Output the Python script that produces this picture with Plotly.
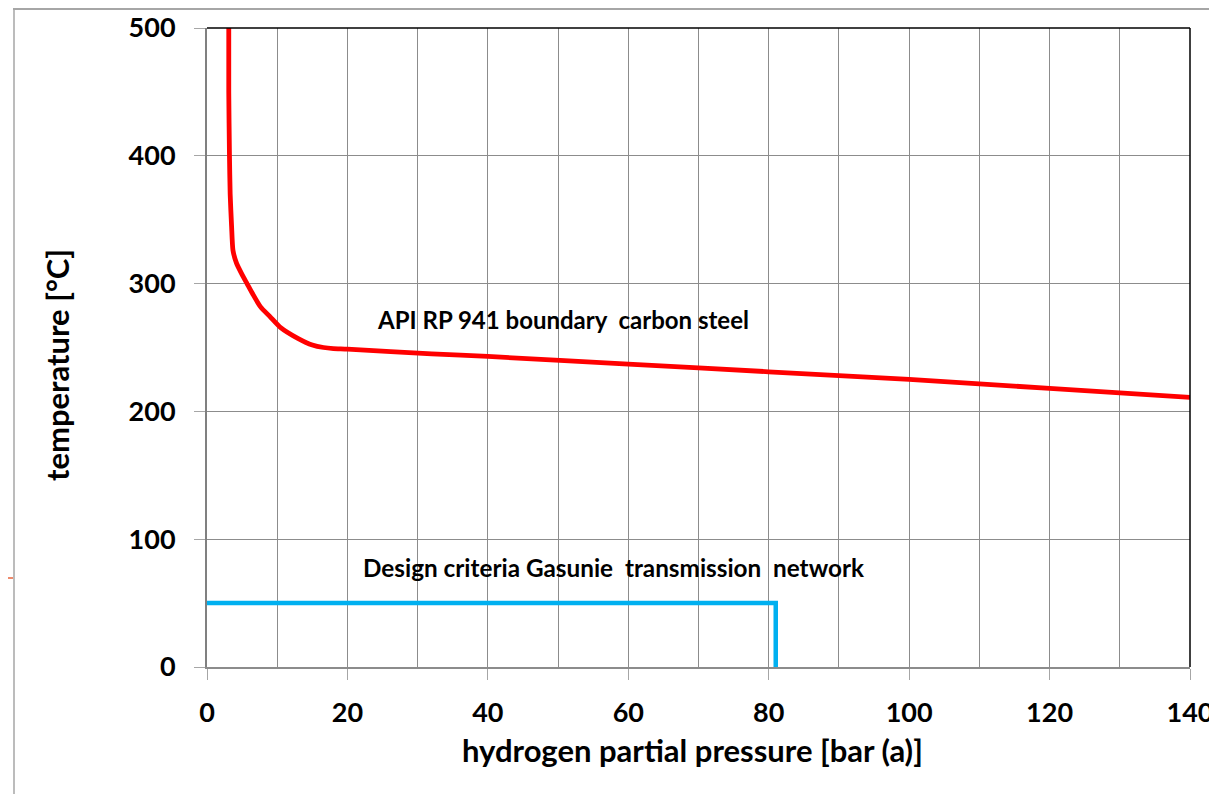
import plotly.graph_objects as go

# API RP 941 boundary (carbon steel)
api_pressure = [3.1, 3.1, 3.2, 3.3, 3.5, 3.7, 4.2, 5.0, 5.7, 6.5, 7.6, 9.0, 10.4, 13.0, 15.0, 16.6, 18.0, 20.0, 32.0, 40.0, 60.0, 80.0, 100.0, 120.0, 140.0]
api_temp = [500, 450, 400, 370, 345, 326, 316, 307, 300, 292, 282, 274, 266, 257, 252, 250, 249.2, 248.8, 245, 243, 237, 231, 225, 218, 211]

# Design criteria Gasunie transmission network
gas_pressure = [0, 81, 81]
gas_temp = [50, 50, 0]

x_ticks = [0, 20, 40, 60, 80, 100, 120, 140]
y_ticks = [0, 100, 200, 300, 400, 500]

FONT = "Lato"
# page offset caused by the default 8px body margin
OFF = 8
W, H = 1217 - OFF, 802 - 2 * OFF

# plot area in page pixels
PL, PR, PT, PB = 207, 1190, 28, 667

fig = go.Figure()
fig.add_trace(go.Scatter(x=api_pressure, y=api_temp, mode="lines",
                         line=dict(color="#FF0000", width=4.8, shape="spline", smoothing=0.6),
                         showlegend=False, hoverinfo="skip"))
fig.add_trace(go.Scatter(x=gas_pressure, y=gas_temp, mode="lines",
                         line=dict(color="#00B0F0", width=4.5),
                         showlegend=False, hoverinfo="skip"))

def px(x):
    return (x - PL) / float(PR - PL)

def py(y):
    return (PB - y) / float(PB - PT)

fig.add_annotation(x=50.7, y=272, text="API RP 941 boundary\u00a0 carbon steel", showarrow=False,
                   xanchor="center", yanchor="middle",
                   font=dict(family=FONT, size=24, color="#000000", weight="bold"))
fig.add_annotation(x=57.9, y=78, text="Design criteria Gasunie\u00a0 transmission\u00a0 network", showarrow=False,
                   xanchor="center", yanchor="middle",
                   font=dict(family=FONT, size=24.3, color="#000000", weight="bold"))
# axis titles
fig.add_annotation(xref="paper", yref="paper", x=px(692), y=py(750), text="hydrogen partial pressure [bar (a)]",
                   xanchor="center", yanchor="middle",
                   showarrow=False, font=dict(family=FONT, size=31, color="#000000", weight="bold"))
fig.add_annotation(xref="paper", yref="paper", x=px(57), y=py(365), text="temperature [°C]", textangle=-90,
                   xanchor="center", yanchor="middle",
                   showarrow=False, font=dict(family=FONT, size=31, color="#000000", weight="bold"))

shapes = [
    # black top and right border of plot area
    dict(type="line", xref="paper", yref="paper", x0=0, x1=1, y0=1, y1=1, line=dict(color="#000000", width=1.5)),
    dict(type="line", xref="paper", yref="paper", x0=1, x1=1, y0=0, y1=1, line=dict(color="#000000", width=1.5)),
    # slide frame artefacts
    dict(type="line", xref="paper", yref="paper", x0=px(13), x1=px(1217), y0=py(9), y1=py(9), line=dict(color="#A6A6A6", width=2)),
    dict(type="line", xref="paper", yref="paper", x0=px(14), x1=px(14), y0=py(9), y1=py(800), line=dict(color="#A6A6A6", width=1.5)),
    dict(type="line", xref="paper", yref="paper", x0=px(0), x1=px(13), y0=py(578), y1=py(578), line=dict(color="#E8643C", width=1.5)),
]

fig.update_layout(
    width=W, height=H,
    margin=dict(l=PL - OFF, r=W - (PR - OFF), t=PT - OFF, b=H - (PB - OFF), autoexpand=False),
    paper_bgcolor="white", plot_bgcolor="white",
    shapes=shapes,
    xaxis=dict(range=[0, 140], tickvals=x_ticks, ticktext=[str(v) for v in x_ticks],
               automargin=False,
               showgrid=True, gridcolor="#8C8C8C", gridwidth=1,
               minor=dict(dtick=10, tick0=0, showgrid=True, gridcolor="#8C8C8C", gridwidth=1),
               showline=True, linecolor="#8C8C8C", linewidth=1.5,
               ticks="outside", ticklen=11, tickcolor="#A6A6A6", tickwidth=1,
               ticklabelstandoff=10,
               zeroline=False,
               tickfont=dict(family=FONT, size=27, color="#000000", weight="bold")),
    yaxis=dict(range=[0, 500], tickvals=y_ticks, ticktext=[str(v) for v in y_ticks],
               automargin=False,
               showgrid=True, gridcolor="#8C8C8C", gridwidth=1,
               showline=True, linecolor="#808080", linewidth=2,
               ticks="outside", ticklen=11, tickcolor="#A6A6A6", tickwidth=1,
               ticklabelstandoff=13,
               zeroline=False,
               tickfont=dict(family=FONT, size=27, color="#000000", weight="bold")),
)

fig.write_html("out.html")
